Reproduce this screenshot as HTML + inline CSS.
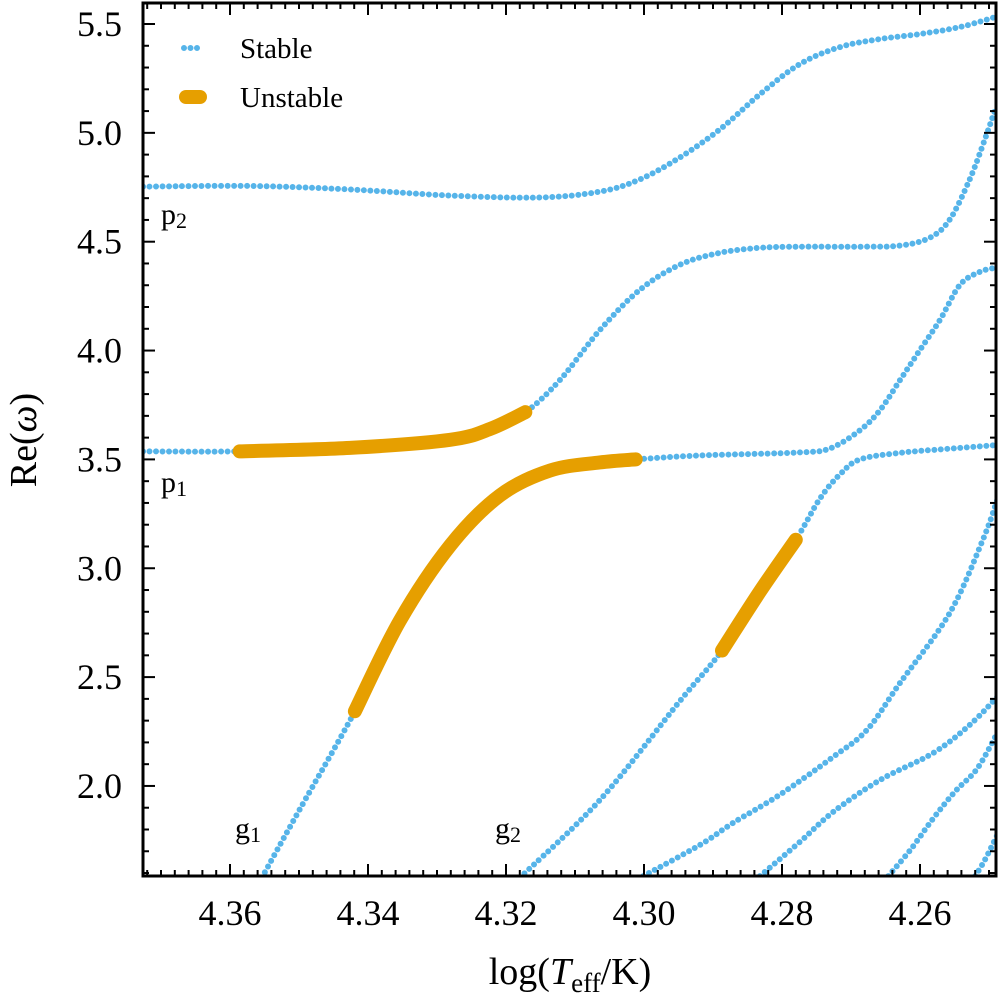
<!DOCTYPE html>
<html><head><meta charset="utf-8"><style>
body{margin:0;background:#fff}
svg text{font-family:"Liberation Serif",serif;fill:#000}
</style></head><body>
<svg id="chart" width="1000" height="996" viewBox="0 0 1000 996" xmlns="http://www.w3.org/2000/svg">
<defs><clipPath id="clip"><rect x="143" y="3" width="853" height="873"/></clipPath></defs>
<g id="marks" clip-path="url(#clip)"></g>
<g id="axes"></g>
<rect x="143" y="3" width="853" height="873" fill="none" stroke="#000" stroke-width="3"/>
<g>
  <line x1="184" y1="48" x2="200" y2="48" stroke="#56B4E9" stroke-width="6" stroke-linecap="round" stroke-dasharray="0 6.5"/>
  <text x="240" y="58" font-size="29">Stable</text>
  <line x1="186" y1="97" x2="200" y2="97" stroke="#E69F00" stroke-width="14" stroke-linecap="round"/>
  <text x="240" y="107" font-size="29">Unstable</text>
</g>
<text x="161" y="224" font-size="30">p<tspan font-size="22" dy="4">2</tspan></text>
<text x="161" y="492" font-size="30">p<tspan font-size="22" dy="4">1</tspan></text>
<text x="235" y="838" font-size="30">g<tspan font-size="22" dy="4">1</tspan></text>
<text x="495" y="838" font-size="30">g<tspan font-size="22" dy="4">2</tspan></text>
<text x="570" y="984" font-size="38" text-anchor="middle">log(<tspan font-style="italic">T</tspan><tspan font-size="27" dy="8">eff</tspan><tspan dy="-8">/K)</tspan></text>
<text transform="translate(36,440) rotate(-90)" font-size="38" text-anchor="middle">Re(<tspan font-style="italic">ω</tspan>)</text>
</svg>
<script>
const aX = [4.3726,4.3571,4.3426,4.3281,4.3151,4.3064,4.3006,4.2948,4.2890,4.2832,4.2774,4.2716,4.2658,4.2600,4.2542,4.2491];
const aY = [4.753,4.756,4.740,4.712,4.703,4.730,4.786,4.887,5.016,5.177,5.316,5.394,5.431,5.454,5.486,5.532];
const bX = [4.3726,4.3586,4.3426,4.3281,4.3223,4.3172,4.3122,4.3064,4.3006,4.2948,4.2890,4.2832,4.2774,4.2687,4.2629,4.2586,4.2557,4.2528,4.2506,4.2491];
const bY = [3.537,3.537,3.553,3.590,3.640,3.717,3.864,4.094,4.279,4.394,4.449,4.472,4.477,4.477,4.482,4.518,4.601,4.786,4.970,5.108];
const cX = [4.3554,4.3499,4.3419,4.3354,4.3281,4.3209,4.3136,4.3064,4.3012,4.2919,4.2774,4.2730,4.2687,4.2658,4.2629,4.2600,4.2571,4.2542,4.2513,4.2491];
const cY = [1.578,1.892,2.343,2.758,3.104,3.334,3.449,3.486,3.500,3.518,3.532,3.551,3.634,3.726,3.864,4.003,4.141,4.302,4.362,4.380];
const dX = [4.3180,4.3064,4.2948,4.2887,4.2832,4.2780,4.2745,4.2716,4.2687,4.2629,4.2571,4.2491];
const dY = [1.578,1.935,2.390,2.622,2.893,3.131,3.320,3.431,3.500,3.530,3.546,3.565];
const eX = [4.3001,4.2919,4.2871,4.2803,4.2726,4.2677,4.2629,4.2557,4.2509,4.2488];
const eY = [1.586,1.729,1.830,1.960,2.133,2.257,2.473,2.794,3.130,3.314];
const fX = [4.2832,4.2774,4.2726,4.2658,4.2581,4.2528,4.2488];
const fY = [1.586,1.743,1.880,2.027,2.151,2.280,2.409];
const gX = [4.2646,4.2614,4.2581,4.2549,4.2517,4.2488];
const gY = [1.586,1.706,1.850,1.975,2.080,2.243];
const hX = [4.2520,4.2506,4.2488];
const hY = [1.586,1.660,1.775];
const unstableB = [4.3586,4.3172];
const unstableC = [4.3419,4.3012];
const unstableD = [4.2887,4.2780];
const xTicks = ["4.36","4.34","4.32","4.30","4.28","4.26"];
const yTicks = ["2.0","2.5","3.0","3.5","4.0","4.5","5.0","5.5"];

const NS = "http://www.w3.org/2000/svg";
const X = v => 230 + (4.36 - v) * 6900;
const Y = v => 24 + (5.5 - v) * 217.7;
const marks = document.getElementById('marks');
const axes = document.getElementById('axes');

function pathD(xs, ys) {
  const p = xs.map((x, i) => [X(x), Y(ys[i])]);
  let d = `M${p[0][0]},${p[0][1]}`;
  for (let i = 0; i < p.length - 1; i++) {
    const p0 = p[i - 1] || p[i], p1 = p[i], p2 = p[i + 1], p3 = p[i + 2] || p2;
    const c1 = [p1[0] + (p2[0] - p0[0]) / 6, p1[1] + (p2[1] - p0[1]) / 6];
    const c2 = [p2[0] - (p3[0] - p1[0]) / 6, p2[1] - (p3[1] - p1[1]) / 6];
    d += ` C${c1[0]},${c1[1]} ${c2[0]},${c2[1]} ${p2[0]},${p2[1]}`;
  }
  return d;
}
function stable(xs, ys, name) {
  const el = document.createElementNS(NS, 'path');
  el.setAttribute('d', pathD(xs, ys));
  el.setAttribute('fill', 'none');
  el.setAttribute('stroke', '#56B4E9');
  el.setAttribute('stroke-width', '6');
  el.setAttribute('stroke-linecap', 'round');
  el.setAttribute('stroke-dasharray', '0 6.5');
  
  
  marks.appendChild(el);
}
function unstable(xs, ys, range, name) {
  const sx = [], sy = [];
  xs.forEach((x, i) => { if (x <= range[0] + 1e-9 && x >= range[1] - 1e-9) { sx.push(x); sy.push(ys[i]); } });
  const el = document.createElementNS(NS, 'path');
  el.setAttribute('d', pathD(sx, sy));
  el.setAttribute('fill', 'none');
  el.setAttribute('stroke', '#E69F00');
  el.setAttribute('stroke-width', '14');
  el.setAttribute('stroke-linecap', 'round');
  
  
  marks.appendChild(el);
}
stable(aX, aY, 'mode-p2-stable');
stable(bX, bY, 'mode-p1-stable');
stable(cX, cY, 'mode-g1-stable');
stable(dX, dY, 'mode-g2-stable');
stable(eX, eY, 'mode-g3-stable');
stable(fX, fY, 'mode-g4-stable');
stable(gX, gY, 'mode-g5-stable');
stable(hX, hY, 'mode-g6-stable');
unstable(bX, bY, unstableB, 'mode-p1-unstable');
unstable(cX, cY, unstableC, 'mode-g1-unstable');
unstable(dX, dY, unstableD, 'mode-g2-unstable');

function line(x1, y1, x2, y2, name) {
  const l = document.createElementNS(NS, 'line');
  l.setAttribute('x1', x1); l.setAttribute('y1', y1);
  l.setAttribute('x2', x2); l.setAttribute('y2', y2);
  l.setAttribute('stroke', '#000'); l.setAttribute('stroke-width', '2');
  
  
  axes.appendChild(l);
}
function text(x, y, s, anchor, name) {
  const t = document.createElementNS(NS, 'text');
  t.setAttribute('x', x); t.setAttribute('y', y);
  t.setAttribute('font-size', '36');
  t.setAttribute('text-anchor', anchor);
  t.textContent = s;
  
  
  axes.appendChild(t);
}
for (let k = 0; k <= 70; k++) {
  const v = 4.374 - k * 0.002;
  const px = X(v);
  if (px < 144 || px > 995) continue;
  const major = Math.abs(Math.round(v * 50) - v * 50) < 1e-6;
  const len = major ? 12 : 6;
  line(px, 876, px, 876 - len, 'x-tick');
  line(px, 3, px, 3 + len, 'x-tick-top');
}
xTicks.forEach(s => text(X(+s), 925, s, 'middle', 'x-tick-label'));
for (let k = 0; k <= 45; k++) {
  const v = 1.6 + k * 0.1;
  const py = Y(v);
  if (py < 4 || py > 875) continue;
  const major = Math.abs(Math.round(v * 2) - v * 2) < 1e-6;
  const len = major ? 12 : 6;
  line(143, py, 143 + len, py, 'y-tick');
  line(996, py, 996 - len, py, 'y-tick-right');
}
yTicks.forEach(s => text(122, Y(+s) + 12, s, 'end', 'y-tick-label'));
</script>
</body></html>
